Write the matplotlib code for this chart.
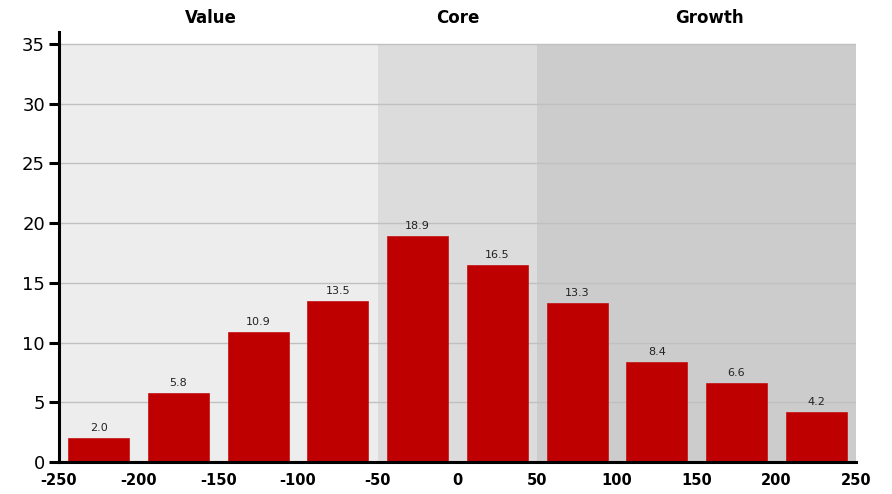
import matplotlib
matplotlib.use("Agg")
import matplotlib.pyplot as plt
import matplotlib.transforms as mtransforms

# Data
bin_edges = [-250, -200, -150, -100, -50, 0, 50, 100, 150, 200, 250]
values = [2.0, 5.8, 10.9, 13.5, 18.9, 16.5, 13.3, 8.4, 6.6, 4.2]
band_names = ["Value", "Core", "Growth"]
band_ranges = [(-250, -50), (-50, 50), (50, 250)]
band_colors = ["#ededed", "#dcdcdc", "#cccccc"]
band_label_x = [-155, 0, 158]
y_ticks = [0, 5, 10, 15, 20, 25, 30, 35]

plt.rcParams['font.family'] = ['DejaVu Sans']

fig = plt.figure(figsize=(8.92, 4.94), dpi=100)
ax = fig.add_axes([59/892, 1-462/494, (856-59)/892, (462-32)/494])

ax.set_xlim(-250, 250)
ax.set_ylim(0, 36)

for (x0, x1), c in zip(band_ranges, band_colors):
    ax.fill_between([x0, x1], 0, 35, color=c, zorder=0, linewidth=0)

for y in y_ticks[1:]:
    ax.axhline(y, color="#c0c0c0", linewidth=1.0, zorder=1)

centers = [(bin_edges[i] + bin_edges[i+1]) / 2 for i in range(len(values))]
ax.bar(centers, values, width=38.3, color="#bf0000", edgecolor="#c41010",
       linewidth=0.5, zorder=2)
for c, v in zip(centers, values):
    ax.annotate(f"{v:.1f}", (c, v), xytext=(0, 3.5), textcoords="offset points",
                ha="center", va="bottom", fontsize=8, color="#222222", zorder=3)

trans = mtransforms.blended_transform_factory(ax.transData, fig.transFigure)
for name, bx in zip(band_names, band_label_x):
    ax.text(bx, 1 - 18/494, name, transform=trans, ha="center",
            va="center", fontsize=12, fontweight="bold", color="black")

ax.set_yticks(y_ticks)
ax.set_yticklabels([str(y) for y in y_ticks], fontsize=13)
ax.set_xticks(bin_edges)
ax.set_xticklabels([str(x) for x in bin_edges], fontsize=10.5, fontweight="bold")

ax.tick_params(axis="y", length=7, width=2.2, direction="out", pad=3, color="black")
ax.tick_params(axis="x", length=0, pad=8)

for s in ["top", "right"]:
    ax.spines[s].set_visible(False)
ax.spines["left"].set_linewidth(2.2)
ax.spines["bottom"].set_linewidth(2.2)
ax.spines["left"].set_zorder(4)
ax.spines["bottom"].set_zorder(4)
ax.set_facecolor("white")

fig.savefig("out.png", dpi=100)
